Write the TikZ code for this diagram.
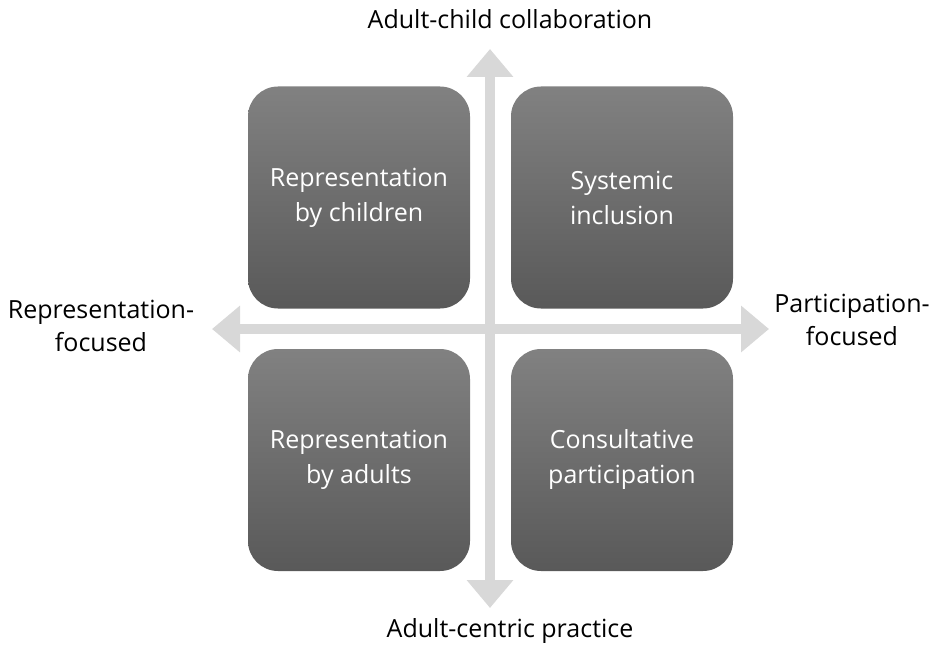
\documentclass[tikz,border=0pt]{standalone}
\usepackage{fontspec}
\setmainfont{Open Sans}
\usetikzlibrary{arrows.meta}
\definecolor{axisgray}{HTML}{D8D8D8}
\definecolor{boxtop}{HTML}{818181}
\definecolor{boxbot}{HTML}{595959}
\tikzset{
  quad/.style={rounded corners=30pt, minimum width=222pt, minimum height=222pt,
    top color=boxtop, bottom color=boxbot, draw=none, text=white,
    align=center, font=\fontsize{25}{35}\selectfont, inner sep=0pt},
  axislabel/.style={text=black, align=center, font=\fontsize{25}{33}\selectfont, inner sep=0pt},
  axis/.style={draw=axisgray, line width=10pt,
    {Triangle[width=45pt,length=28pt]}-{Triangle[width=45pt,length=28pt]}}
}
\begin{document}
\begin{tikzpicture}[x=1pt,y=-1pt]
\useasboundingbox (0,0) rectangle (939,647);
\coordinate (top) at (490,49);
\coordinate (bot) at (490,608);
\coordinate (left) at (212,329);
\coordinate (right) at (769,329);
\draw[axis] (top) -- (bot);
\draw[axis] (left) -- (right);
\node[quad] (tl) at (359,197.5) {Representation\\by children};
\node[quad] (tr) at (622,197.5) {Systemic\\inclusion};
\node[quad] (bl) at (359,460) {Representation\\by adults};
\node[quad] (br) at (622,460) {Consultative\\participation};
\node[axislabel] (lt) at (510,19) {Adult-child collaboration};
\node[axislabel] (lb) at (510,631) {Adult-centric practice};
\node[axislabel] (ll) at (101,326) {Representation-\\focused};
\node[axislabel] (lr) at (852,320) {Participation-\\focused};
\end{tikzpicture}
\end{document}
